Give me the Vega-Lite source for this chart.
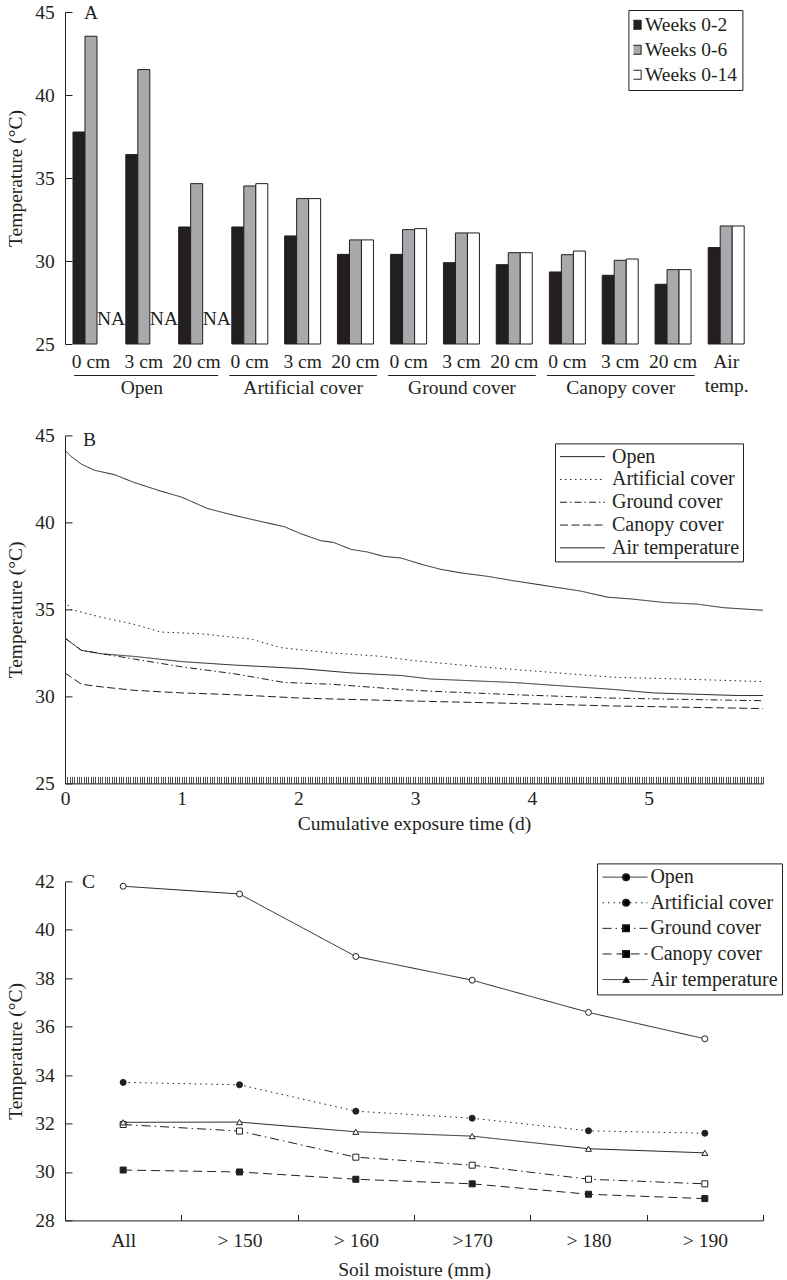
{
  "$schema": "https://vega.github.io/schema/vega-lite/v6.json",
  "padding": {"left": 5, "top": 2, "right": 0, "bottom": 0},
  "background": "white",
  "config": {
    "font": "Liberation Serif",
    "view": {"stroke": null},
    "axis": {"labelFont": "Liberation Serif", "titleFont": "Liberation Serif", "labelFontSize": 19.5, "titleFontSize": 19.5, "titleFontWeight": "normal", "labelColor": "#231f20", "titleColor": "#231f20", "domainColor": "#231f20", "tickColor": "#231f20", "grid": false, "domainWidth": 1, "tickWidth": 1},
    "legend": {"labelFont": "Liberation Serif", "labelFontSize": 19.5, "labelColor": "#231f20", "strokeColor": "#231f20", "labelLimit": 300, "clipHeight": 19.5},
    "title": {"font": "Liberation Serif", "fontSize": 19.5, "fontWeight": "normal", "anchor": "start", "color": "#231f20", "frame": "group", "baseline": "alphabetic"}
  },
  "datasets": {
    "bars": [
      {"group": "Open", "depth": "0 cm", "period": "Weeks 0-2", "temp": 37.77},
      {"group": "Open", "depth": "0 cm", "period": "Weeks 0-6", "temp": 43.54},
      {"group": "Open", "depth": "0 cm", "period": "Weeks 0-14", "temp": null, "note": "NA"},
      {"group": "Open", "depth": "3 cm", "period": "Weeks 0-2", "temp": 36.41},
      {"group": "Open", "depth": "3 cm", "period": "Weeks 0-6", "temp": 41.53},
      {"group": "Open", "depth": "3 cm", "period": "Weeks 0-14", "temp": null, "note": "NA"},
      {"group": "Open", "depth": "20 cm", "period": "Weeks 0-2", "temp": 32.05},
      {"group": "Open", "depth": "20 cm", "period": "Weeks 0-6", "temp": 34.66},
      {"group": "Open", "depth": "20 cm", "period": "Weeks 0-14", "temp": null, "note": "NA"},
      {"group": "Artificial cover", "depth": "0 cm", "period": "Weeks 0-2", "temp": 32.05},
      {"group": "Artificial cover", "depth": "0 cm", "period": "Weeks 0-6", "temp": 34.52},
      {"group": "Artificial cover", "depth": "0 cm", "period": "Weeks 0-14", "temp": 34.66},
      {"group": "Artificial cover", "depth": "3 cm", "period": "Weeks 0-2", "temp": 31.51},
      {"group": "Artificial cover", "depth": "3 cm", "period": "Weeks 0-6", "temp": 33.76},
      {"group": "Artificial cover", "depth": "3 cm", "period": "Weeks 0-14", "temp": 33.76},
      {"group": "Artificial cover", "depth": "20 cm", "period": "Weeks 0-2", "temp": 30.4},
      {"group": "Artificial cover", "depth": "20 cm", "period": "Weeks 0-6", "temp": 31.27},
      {"group": "Artificial cover", "depth": "20 cm", "period": "Weeks 0-14", "temp": 31.27},
      {"group": "Ground cover", "depth": "0 cm", "period": "Weeks 0-2", "temp": 30.4},
      {"group": "Ground cover", "depth": "0 cm", "period": "Weeks 0-6", "temp": 31.89},
      {"group": "Ground cover", "depth": "0 cm", "period": "Weeks 0-14", "temp": 31.95},
      {"group": "Ground cover", "depth": "3 cm", "period": "Weeks 0-2", "temp": 29.9},
      {"group": "Ground cover", "depth": "3 cm", "period": "Weeks 0-6", "temp": 31.69},
      {"group": "Ground cover", "depth": "3 cm", "period": "Weeks 0-14", "temp": 31.69},
      {"group": "Ground cover", "depth": "20 cm", "period": "Weeks 0-2", "temp": 29.78},
      {"group": "Ground cover", "depth": "20 cm", "period": "Weeks 0-6", "temp": 30.5},
      {"group": "Ground cover", "depth": "20 cm", "period": "Weeks 0-14", "temp": 30.5},
      {"group": "Canopy cover", "depth": "0 cm", "period": "Weeks 0-2", "temp": 29.34},
      {"group": "Canopy cover", "depth": "0 cm", "period": "Weeks 0-6", "temp": 30.38},
      {"group": "Canopy cover", "depth": "0 cm", "period": "Weeks 0-14", "temp": 30.6},
      {"group": "Canopy cover", "depth": "3 cm", "period": "Weeks 0-2", "temp": 29.14},
      {"group": "Canopy cover", "depth": "3 cm", "period": "Weeks 0-6", "temp": 30.04},
      {"group": "Canopy cover", "depth": "3 cm", "period": "Weeks 0-14", "temp": 30.12},
      {"group": "Canopy cover", "depth": "20 cm", "period": "Weeks 0-2", "temp": 28.6},
      {"group": "Canopy cover", "depth": "20 cm", "period": "Weeks 0-6", "temp": 29.48},
      {"group": "Canopy cover", "depth": "20 cm", "period": "Weeks 0-14", "temp": 29.48},
      {"group": "Air", "depth": "Air", "period": "Weeks 0-2", "temp": 30.81},
      {"group": "Air", "depth": "Air", "period": "Weeks 0-6", "temp": 32.11},
      {"group": "Air", "depth": "Air", "period": "Weeks 0-14", "temp": 32.11}
    ],
    "curves": [
      {"series": "Open", "day": 0, "temp": 44.15},
      {"series": "Open", "day": 0.05, "temp": 43.8},
      {"series": "Open", "day": 0.14, "temp": 43.35},
      {"series": "Open", "day": 0.25, "temp": 43.0},
      {"series": "Open", "day": 0.42, "temp": 42.75},
      {"series": "Open", "day": 0.59, "temp": 42.3},
      {"series": "Open", "day": 0.82, "temp": 41.8},
      {"series": "Open", "day": 1.0, "temp": 41.45},
      {"series": "Open", "day": 1.22, "temp": 40.8},
      {"series": "Open", "day": 1.45, "temp": 40.4},
      {"series": "Open", "day": 1.68, "temp": 40.05},
      {"series": "Open", "day": 1.88, "temp": 39.75},
      {"series": "Open", "day": 2.02, "temp": 39.35},
      {"series": "Open", "day": 2.19, "temp": 38.95},
      {"series": "Open", "day": 2.3, "temp": 38.85},
      {"series": "Open", "day": 2.45, "temp": 38.45},
      {"series": "Open", "day": 2.59, "temp": 38.3},
      {"series": "Open", "day": 2.73, "temp": 38.05},
      {"series": "Open", "day": 2.88, "temp": 37.95},
      {"series": "Open", "day": 3.05, "temp": 37.6},
      {"series": "Open", "day": 3.22, "temp": 37.3},
      {"series": "Open", "day": 3.39, "temp": 37.1},
      {"series": "Open", "day": 3.62, "temp": 36.9},
      {"series": "Open", "day": 3.84, "temp": 36.65},
      {"series": "Open", "day": 4.13, "temp": 36.35},
      {"series": "Open", "day": 4.42, "temp": 36.05},
      {"series": "Open", "day": 4.65, "temp": 35.7},
      {"series": "Open", "day": 4.85, "temp": 35.6},
      {"series": "Open", "day": 5.13, "temp": 35.4},
      {"series": "Open", "day": 5.42, "temp": 35.3},
      {"series": "Open", "day": 5.64, "temp": 35.1},
      {"series": "Open", "day": 5.98, "temp": 34.95},
      {"series": "Artificial cover", "day": 0, "temp": 35.5},
      {"series": "Artificial cover", "day": 0.05, "temp": 35.0},
      {"series": "Artificial cover", "day": 0.31, "temp": 34.55},
      {"series": "Artificial cover", "day": 0.59, "temp": 34.15},
      {"series": "Artificial cover", "day": 0.82, "temp": 33.7},
      {"series": "Artificial cover", "day": 1.16, "temp": 33.6},
      {"series": "Artificial cover", "day": 1.59, "temp": 33.3},
      {"series": "Artificial cover", "day": 1.85, "temp": 32.8},
      {"series": "Artificial cover", "day": 2.28, "temp": 32.5},
      {"series": "Artificial cover", "day": 2.71, "temp": 32.3},
      {"series": "Artificial cover", "day": 2.88, "temp": 32.15},
      {"series": "Artificial cover", "day": 3.0, "temp": 32.05},
      {"series": "Artificial cover", "day": 3.56, "temp": 31.7},
      {"series": "Artificial cover", "day": 4.13, "temp": 31.4},
      {"series": "Artificial cover", "day": 4.7, "temp": 31.1},
      {"series": "Artificial cover", "day": 5.27, "temp": 31.0},
      {"series": "Artificial cover", "day": 5.98, "temp": 30.85},
      {"series": "Ground cover", "day": 0, "temp": 33.35},
      {"series": "Ground cover", "day": 0.14, "temp": 32.65},
      {"series": "Ground cover", "day": 0.59, "temp": 32.15},
      {"series": "Ground cover", "day": 1.0, "temp": 31.7},
      {"series": "Ground cover", "day": 1.45, "temp": 31.3},
      {"series": "Ground cover", "day": 1.88, "temp": 30.8},
      {"series": "Ground cover", "day": 2.28, "temp": 30.7},
      {"series": "Ground cover", "day": 2.88, "temp": 30.4},
      {"series": "Ground cover", "day": 3.13, "temp": 30.3},
      {"series": "Ground cover", "day": 3.84, "temp": 30.1},
      {"series": "Ground cover", "day": 4.7, "temp": 29.9},
      {"series": "Ground cover", "day": 5.98, "temp": 29.75},
      {"series": "Canopy cover", "day": 0, "temp": 31.35},
      {"series": "Canopy cover", "day": 0.14, "temp": 30.7},
      {"series": "Canopy cover", "day": 0.31, "temp": 30.55},
      {"series": "Canopy cover", "day": 0.59, "temp": 30.35},
      {"series": "Canopy cover", "day": 1.0, "temp": 30.2},
      {"series": "Canopy cover", "day": 1.45, "temp": 30.1},
      {"series": "Canopy cover", "day": 2.02, "temp": 29.9},
      {"series": "Canopy cover", "day": 2.88, "temp": 29.75},
      {"series": "Canopy cover", "day": 3.84, "temp": 29.6},
      {"series": "Canopy cover", "day": 4.7, "temp": 29.45},
      {"series": "Canopy cover", "day": 5.98, "temp": 29.3},
      {"series": "Air temperature", "day": 0, "temp": 33.35},
      {"series": "Air temperature", "day": 0.14, "temp": 32.65},
      {"series": "Air temperature", "day": 0.31, "temp": 32.45},
      {"series": "Air temperature", "day": 0.59, "temp": 32.3},
      {"series": "Air temperature", "day": 1.0, "temp": 32.0},
      {"series": "Air temperature", "day": 1.45, "temp": 31.8},
      {"series": "Air temperature", "day": 2.02, "temp": 31.6},
      {"series": "Air temperature", "day": 2.45, "temp": 31.35},
      {"series": "Air temperature", "day": 2.88, "temp": 31.2},
      {"series": "Air temperature", "day": 3.13, "temp": 31.0},
      {"series": "Air temperature", "day": 3.84, "temp": 30.8},
      {"series": "Air temperature", "day": 4.27, "temp": 30.6},
      {"series": "Air temperature", "day": 4.7, "temp": 30.4},
      {"series": "Air temperature", "day": 5.04, "temp": 30.2},
      {"series": "Air temperature", "day": 5.76, "temp": 30.05},
      {"series": "Air temperature", "day": 5.98, "temp": 30.05}
    ],
    "moist": [
      {"series": "Open", "moisture": "All", "temp": 41.8},
      {"series": "Open", "moisture": "> 150", "temp": 41.48},
      {"series": "Open", "moisture": "> 160", "temp": 38.9},
      {"series": "Open", "moisture": ">170", "temp": 37.92},
      {"series": "Open", "moisture": "> 180", "temp": 36.59},
      {"series": "Open", "moisture": "> 190", "temp": 35.5},
      {"series": "Artificial cover", "moisture": "All", "temp": 33.7},
      {"series": "Artificial cover", "moisture": "> 150", "temp": 33.6},
      {"series": "Artificial cover", "moisture": "> 160", "temp": 32.51},
      {"series": "Artificial cover", "moisture": ">170", "temp": 32.22},
      {"series": "Artificial cover", "moisture": "> 180", "temp": 31.7},
      {"series": "Artificial cover", "moisture": "> 190", "temp": 31.6},
      {"series": "Ground cover", "moisture": "All", "temp": 31.96},
      {"series": "Ground cover", "moisture": "> 150", "temp": 31.69},
      {"series": "Ground cover", "moisture": "> 160", "temp": 30.61},
      {"series": "Ground cover", "moisture": ">170", "temp": 30.28},
      {"series": "Ground cover", "moisture": "> 180", "temp": 29.7},
      {"series": "Ground cover", "moisture": "> 190", "temp": 29.51},
      {"series": "Canopy cover", "moisture": "All", "temp": 30.08},
      {"series": "Canopy cover", "moisture": "> 150", "temp": 30.0},
      {"series": "Canopy cover", "moisture": "> 160", "temp": 29.7},
      {"series": "Canopy cover", "moisture": ">170", "temp": 29.51},
      {"series": "Canopy cover", "moisture": "> 180", "temp": 29.08},
      {"series": "Canopy cover", "moisture": "> 190", "temp": 28.9},
      {"series": "Air temperature", "moisture": "All", "temp": 32.05},
      {"series": "Air temperature", "moisture": "> 150", "temp": 32.06},
      {"series": "Air temperature", "moisture": "> 160", "temp": 31.66},
      {"series": "Air temperature", "moisture": ">170", "temp": 31.48},
      {"series": "Air temperature", "moisture": "> 180", "temp": 30.96},
      {"series": "Air temperature", "moisture": "> 190", "temp": 30.79}
    ]
  },
  "spacing": 28.4,
  "resolve": {"scale": {"fill": "independent", "shape": "independent", "strokeDash": "independent"}, "legend": {"fill": "independent", "shape": "independent", "strokeDash": "independent"}},
  "vconcat": [
    {
      "bounds": "flush",
      "spacing": 10.8,
      "resolve": {"scale": {"x": "independent", "y": "independent", "fill": "independent", "xOffset": "independent"}, "legend": {"fill": "independent"}},
      "hconcat": [
        {
          "width": 152.66, "height": 332,
          "title": {"text": "A", "dx": 19, "offset": -21},
          "data": {"name": "bars"},
          "transform": [{"filter": "datum.group === 'Open'"}],
          "layer": [
            {
              "transform": [{"filter": "isValid(datum.temp)"}],
              "mark": {"type": "bar", "stroke": "#231f20", "strokeWidth": 1},
              "encoding": {
                "x": {"field": "depth", "type": "nominal", "sort": ["0 cm", "3 cm", "20 cm"], "scale": {"paddingInner": 0.3186, "paddingOuter": 0.1041, "align": 0.727},
                      "axis": {"title": "Open", "labelAngle": 0, "ticks": false, "offset": 31, "labelPadding": -8, "labelBaseline": "alphabetic", "titleY": 18, "titleBaseline": "alphabetic", "domainDash": [0, 8.7, 400]}},
                "xOffset": {"field": "period", "type": "nominal", "scale": {"domain": ["Weeks 0-2", "Weeks 0-6", "Weeks 0-14"], "paddingInner": 0, "paddingOuter": 0}},
                "y": {"field": "temp", "type": "quantitative", "scale": {"domain": [25, 45], "nice": false, "zero": false},
                      "axis": {"title": "Temperature (°C)", "values": [25, 30, 35, 40, 45], "tickSize": -7, "labelPadding": 17.7, "titleX": -49.5, "titleBaseline": "middle"}},
                "y2": {"datum": 25},
                "fill": {"field": "period", "type": "nominal", "scale": {"domain": ["Weeks 0-2", "Weeks 0-6", "Weeks 0-14"], "range": ["#231f20", "#a7a9ac", "#ffffff"]}, "legend": null}
              }
            },
            {
              "transform": [{"filter": "datum.note === 'NA'"}],
              "mark": {"type": "text", "align": "left", "baseline": "alphabetic", "dx": -6, "fontSize": 19.5, "font": "Liberation Serif", "color": "#231f20"},
              "encoding": {
                "x": {"field": "depth", "type": "nominal", "sort": ["0 cm", "3 cm", "20 cm"]},
                "xOffset": {"field": "period", "type": "nominal"},
                "y": {"datum": 26.15},
                "text": {"field": "note"}
              }
            }
          ]
        },
        {
          "width": 147.66, "height": 332,
          "data": {"name": "bars"},
          "transform": [{"filter": "datum.group === 'Artificial cover'"}],
          "mark": {"type": "bar", "stroke": "#231f20", "strokeWidth": 1},
          "encoding": {
            "x": {"field": "depth", "type": "nominal", "sort": ["0 cm", "3 cm", "20 cm"], "scale": {"paddingInner": 0.3186, "paddingOuter": 0.0568},
                  "axis": {"title": "Artificial cover", "labelAngle": 0, "ticks": false, "offset": 31, "labelPadding": -8, "labelBaseline": "alphabetic", "titleY": 18, "titleBaseline": "alphabetic"}},
            "xOffset": {"field": "period", "type": "nominal", "scale": {"domain": ["Weeks 0-2", "Weeks 0-6", "Weeks 0-14"], "paddingInner": 0, "paddingOuter": 0}},
            "y": {"field": "temp", "type": "quantitative", "scale": {"domain": [25, 45], "nice": false, "zero": false}, "axis": null},
            "y2": {"datum": 25},
            "fill": {"field": "period", "type": "nominal", "scale": {"domain": ["Weeks 0-2", "Weeks 0-6", "Weeks 0-14"], "range": ["#231f20", "#a7a9ac", "#ffffff"]}, "legend": null}
          }
        },
        {
          "width": 147.66, "height": 332,
          "data": {"name": "bars"},
          "transform": [{"filter": "datum.group === 'Ground cover'"}],
          "mark": {"type": "bar", "stroke": "#231f20", "strokeWidth": 1},
          "encoding": {
            "x": {"field": "depth", "type": "nominal", "sort": ["0 cm", "3 cm", "20 cm"], "scale": {"paddingInner": 0.3186, "paddingOuter": 0.0568},
                  "axis": {"title": "Ground cover", "labelAngle": 0, "ticks": false, "offset": 31, "labelPadding": -8, "labelBaseline": "alphabetic", "titleY": 18, "titleBaseline": "alphabetic"}},
            "xOffset": {"field": "period", "type": "nominal", "scale": {"domain": ["Weeks 0-2", "Weeks 0-6", "Weeks 0-14"], "paddingInner": 0, "paddingOuter": 0}},
            "y": {"field": "temp", "type": "quantitative", "scale": {"domain": [25, 45], "nice": false, "zero": false}, "axis": null},
            "y2": {"datum": 25},
            "fill": {"field": "period", "type": "nominal", "scale": {"domain": ["Weeks 0-2", "Weeks 0-6", "Weeks 0-14"], "range": ["#231f20", "#a7a9ac", "#ffffff"]}, "legend": null}
          }
        },
        {
          "width": 147.66, "height": 332,
          "data": {"name": "bars"},
          "transform": [{"filter": "datum.group === 'Canopy cover'"}],
          "mark": {"type": "bar", "stroke": "#231f20", "strokeWidth": 1},
          "encoding": {
            "x": {"field": "depth", "type": "nominal", "sort": ["0 cm", "3 cm", "20 cm"], "scale": {"paddingInner": 0.3186, "paddingOuter": 0.0568},
                  "axis": {"title": "Canopy cover", "labelAngle": 0, "ticks": false, "offset": 31, "labelPadding": -8, "labelBaseline": "alphabetic", "titleY": 18, "titleBaseline": "alphabetic"}},
            "xOffset": {"field": "period", "type": "nominal", "scale": {"domain": ["Weeks 0-2", "Weeks 0-6", "Weeks 0-14"], "paddingInner": 0, "paddingOuter": 0}},
            "y": {"field": "temp", "type": "quantitative", "scale": {"domain": [25, 45], "nice": false, "zero": false}, "axis": null},
            "y2": {"datum": 25},
            "fill": {"field": "period", "type": "nominal", "scale": {"domain": ["Weeks 0-2", "Weeks 0-6", "Weeks 0-14"], "range": ["#231f20", "#a7a9ac", "#ffffff"]}, "legend": null}
          }
        },
        {
          "width": 42, "height": 332,
          "data": {"name": "bars"},
          "transform": [{"filter": "datum.group === 'Air'"}],
          "mark": {"type": "bar", "stroke": "#231f20", "strokeWidth": 1},
          "encoding": {
            "x": {"field": "depth", "type": "nominal", "scale": {"paddingInner": 0.3186, "paddingOuter": 0.0568},
                  "axis": {"title": "temp.", "labelAngle": 0, "ticks": false, "domain": false, "offset": 31, "labelPadding": -8, "labelBaseline": "alphabetic", "titleY": 16, "titleBaseline": "alphabetic"}},
            "xOffset": {"field": "period", "type": "nominal", "scale": {"domain": ["Weeks 0-2", "Weeks 0-6", "Weeks 0-14"], "paddingInner": 0, "paddingOuter": 0}},
            "y": {"field": "temp", "type": "quantitative", "scale": {"domain": [25, 45], "nice": false, "zero": false}, "axis": null},
            "y2": {"datum": 25},
            "fill": {"field": "period", "type": "nominal", "scale": {"domain": ["Weeks 0-2", "Weeks 0-6", "Weeks 0-14"], "range": ["#231f20", "#a7a9ac", "#ffffff"]},
                     "legend": {"orient": "none", "legendX": -76.8, "legendY": -2, "title": null, "symbolType": "square", "symbolSize": 81, "symbolStrokeColor": "#231f20", "symbolStrokeWidth": 1, "padding": 5, "rowPadding": 4, "symbolOffset": -6.5, "labelOffset": -1.5, "strokeColor": "#231f20"}}
          }
        }
      ]
    },
    {
      "bounds": "flush",
      "spacing": 98,
      "resolve": {"scale": {"fill": "independent", "shape": "independent", "strokeDash": "independent"}, "legend": {"fill": "independent", "shape": "independent", "strokeDash": "independent"}},
      "vconcat": [
        {
          "width": 698, "height": 348,
          "title": {"text": "B", "dx": 18, "offset": -25},
          "data": {"name": "curves"},
          "mark": {"type": "line", "color": "#231f20", "strokeWidth": 1},
          "encoding": {
            "x": {"field": "day", "type": "quantitative", "scale": {"domain": [0, 5.98], "nice": false, "zero": false},
                  "axis": {"title": "Cumulative exposure time (d)", "tickCount": 300, "tickSize": -7, "tickWidth": 0.8, "labelExpr": "datum.value % 1 === 0 ? format(datum.value, 'd') : ''", "labelOverlap": false, "labelFlush": false, "labelPadding": 28, "labelBaseline": "alphabetic", "titleY": 46, "titleBaseline": "alphabetic"}},
            "y": {"field": "temp", "type": "quantitative", "scale": {"domain": [25, 45], "nice": false, "zero": false},
                  "axis": {"title": "Temperature (°C)", "values": [25, 30, 35, 40, 45], "tickSize": -7, "labelPadding": 17.7, "titleX": -49.5, "titleBaseline": "middle"}},
            "strokeDash": {"field": "series", "type": "nominal",
                           "scale": {"domain": ["Open", "Artificial cover", "Ground cover", "Canopy cover", "Air temperature"], "range": [[1, 0], [1.5, 3.5], [7, 3, 1.5, 3], [8, 3.5], [1, 0]]},
                           "legend": {"orient": "none", "legendX": 490, "legendY": 8, "title": null, "symbolType": "stroke", "symbolSize": 2025, "symbolStrokeWidth": 1, "symbolStrokeColor": "#231f20", "padding": 3.5, "rowPadding": 1.8, "symbolOffset": 1, "labelOffset": 6.5, "strokeColor": "#231f20", "labelFontSize": 20}}
          }
        },
        {
          "width": 698, "height": 339,
          "title": {"text": "C", "dx": 17, "offset": -30},
          "data": {"name": "moist"},
          "encoding": {
            "x": {"field": "moisture", "type": "ordinal", "sort": ["All", "> 150", "> 160", ">170", "> 180", "> 190"], "scale": {"type": "band", "paddingInner": 0, "paddingOuter": 0},
                  "axis": {"title": "Soil moisture (mm)", "labelAngle": 0, "tickBand": "extent", "tickSize": -6, "labelPadding": 32, "labelBaseline": "alphabetic", "titleY": 55, "titleBaseline": "alphabetic"}},
            "y": {"field": "temp", "type": "quantitative", "scale": {"domain": [28, 42], "nice": false, "zero": false},
                  "axis": {"title": "Temperature (°C)", "values": [28, 30, 32, 34, 36, 38, 40, 42], "tickSize": -7, "labelPadding": 17.7, "titleX": -49.5, "titleBaseline": "middle"}}
          },
          "layer": [
            {
              "mark": {"type": "line", "color": "#231f20", "strokeWidth": 1},
              "encoding": {
                "strokeDash": {"field": "series", "type": "nominal",
                               "scale": {"domain": ["Open", "Artificial cover", "Ground cover", "Canopy cover", "Air temperature"], "range": [[1, 0], [1.5, 4], [9, 4, 1.5, 4], [9, 5], [1, 0]]},
                               "legend": {"orient": "none", "legendX": 532, "legendY": -18, "title": null, "symbolType": "stroke", "symbolSize": 2025, "symbolStrokeWidth": 1, "symbolStrokeColor": "#231f20", "padding": 4, "rowPadding": 4.6, "symbolOffset": 1, "labelOffset": 2.4, "strokeColor": "#231f20", "labelFontSize": 20, "zindex": 1}}
              }
            },
            {
              "mark": {"type": "point", "filled": true, "size": 64, "color": "#231f20", "opacity": 0},
              "encoding": {
                "shape": {"field": "series", "type": "nominal",
                          "scale": {"domain": ["Open", "Artificial cover", "Ground cover", "Canopy cover", "Air temperature"], "range": ["circle", "circle", "square", "square", "triangle-up"]},
                          "legend": {"orient": "none", "legendX": 532, "legendY": -18, "title": null, "symbolSize": 64, "padding": 4, "rowPadding": 4.6, "symbolOffset": 15, "labelExpr": "''", "labelFontSize": 20, "strokeColor": "transparent", "zindex": 2,
                                     "encode": {"symbols": {"update": {
                                       "fill": {"value": "#231f20"},
                                       "fillOpacity": {"value": 1},
                                       "opacity": {"value": 1}
                                     }}}}}
              }
            },
            {
              "mark": {"type": "point", "filled": false, "size": 36, "color": "#231f20", "stroke": "#231f20", "strokeWidth": 1, "opacity": 1},
              "encoding": {
                "shape": {"field": "series", "type": "nominal",
                          "scale": {"domain": ["Open", "Artificial cover", "Ground cover", "Canopy cover", "Air temperature"], "range": ["circle", "circle", "square", "square", "triangle-up"]},
                          "legend": {"orient": "none", "legendX": 532, "legendY": -18, "title": null, "symbolSize": 30, "symbolStrokeWidth": 1, "symbolStrokeColor": "#231f20", "padding": 4, "rowPadding": 4.6, "symbolOffset": 16, "labelExpr": "''", "labelFontSize": 20, "strokeColor": "transparent", "zindex": 3,
                                     "encode": {"symbols": {
                                       "update": {
                                         "fill": {"signal": "datum.value === 'Artificial cover' || datum.value === 'Canopy cover' ? '#231f20' : '#ffffff'"},
                                         "fillOpacity": {"value": 1},
                                         "opacity": {"value": 1}
                                       }}}}},
                "fill": {"field": "series", "type": "nominal",
                         "scale": {"domain": ["Open", "Artificial cover", "Ground cover", "Canopy cover", "Air temperature"], "range": ["#ffffff", "#231f20", "#ffffff", "#231f20", "#ffffff"]},
                         "legend": null}
              }
            }
          ],
          "resolve": {"scale": {"shape": "independent"}, "legend": {"strokeDash": "independent", "shape": "independent"}}
        }
      ]
    }
  ]
}
